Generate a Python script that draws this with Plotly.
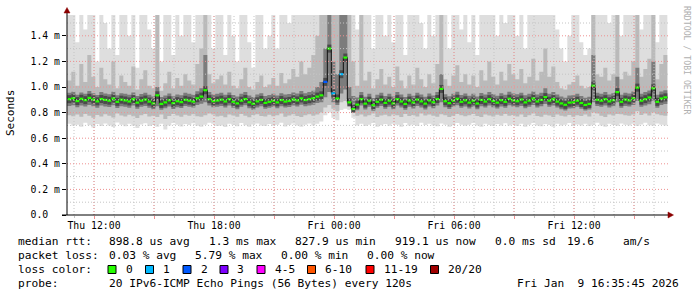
import plotly.graph_objects as go
import pandas as pd

# ---------------- data (round-trip times in microseconds) ----------------
start_time = "2026-01-08 10:40"
step_minutes = 12

median_us = [
    905, 912, 890, 908, 897, 915, 902, 888, 906, 899,
    893, 910, 884, 901, 895, 887, 905, 878, 893, 902,
    886, 872, 935, 868, 880, 896, 874, 889, 882, 900,
    893, 886, 912, 925, 975, 905, 889, 894, 901, 887,
    905, 885, 872, 893, 906, 881, 869, 888, 899, 876,
    884, 893, 880, 898, 886, 891, 903, 895, 911, 898,
    905, 912, 925, 935, 1040, 1300, 950, 910, 1100, 1230,
    880, 828, 862, 905, 870, 893, 858, 884, 901, 876,
    893, 872, 905, 887, 868, 894, 879, 902, 888, 870,
    895, 881, 906, 985, 889, 874, 893, 908, 884, 896,
    878, 893, 871, 899, 886, 905, 890, 878, 897, 884,
    908, 895, 889, 902, 880, 893, 910, 887, 899, 921,
    893, 905, 886, 872, 861, 878, 880, 893, 875, 860,
    868, 1010, 900, 893, 905, 888, 897, 960, 884, 902,
    895, 912, 995, 893, 905, 918, 990, 884, 910, 919,
]
loss_count = [
    0, 0, 0, 0, 0, 0, 0, 0, 0, 0, 0, 0, 0, 0, 0, 0, 0, 0, 0, 0, 0, 0, 0, 0, 0, 0, 0, 0, 0, 0,
    0, 0, 0, 0, 0, 0, 0, 0, 0, 0, 0, 0, 0, 0, 0, 0, 0, 0, 0, 0, 0, 0, 0, 0, 0, 0, 0, 0, 0, 0,
    0, 0, 0, 0, 2, 0, 1, 0, 1, 0, 0, 0, 0, 0, 0, 0, 0, 0, 0, 0, 0, 0, 0, 0, 0, 0, 0, 0, 0, 0,
    0, 0, 0, 0, 0, 0, 0, 0, 0, 0, 0, 0, 0, 0, 0, 0, 0, 0, 0, 0, 0, 0, 0, 0, 0, 0, 0, 0, 0, 0,
    0, 0, 0, 0, 0, 0, 0, 0, 0, 0, 0, 0, 0, 0, 0, 0, 0, 0, 0, 0, 0, 0, 0, 0, 0, 0, 0, 0, 0, 0,
]
ping_min_us = [
    712, 698, 705, 690, 720, 702, 684, 710, 695, 715,
    700, 688, 722, 705, 693, 712, 698, 680, 707, 716,
    695, 703, 690, 712, 668, 700, 718, 705, 692, 710,
    703, 716, 698, 690, 705, 720, 712, 695, 700, 688,
    712, 705, 694, 718, 702, 690, 708, 715, 700, 696,
    710, 698, 705, 720, 692, 703, 714, 700, 690, 706,
    715, 700, 712, 730, 780, 800, 760, 740, 820, 830,
    820, 760, 700, 712, 695, 705, 718, 690, 702, 710,
    698, 712, 705, 690, 718, 700, 708, 695, 720, 703,
    712, 700, 693, 715, 705, 690, 702, 718, 706, 697,
    705, 718, 700, 690, 712, 703, 695, 710, 700, 716,
    700, 708, 695, 712, 690, 705, 718, 700, 693, 710,
    703, 690, 712, 700, 705, 718, 695, 708, 700, 712,
    695, 705, 720, 700, 690, 712, 703, 698, 715, 705,
    700, 712, 695, 708, 720, 702, 698, 715, 705, 700,
]
ping_p10_us = [
    780, 772, 785, 768, 790, 776, 760, 782, 770, 788,
    775, 762, 792, 778, 770, 784, 772, 758, 780, 790,
    770, 776, 765, 786, 750, 774, 790, 778, 768, 784,
    776, 788, 772, 768, 780, 792, 786, 770, 776, 764,
    786, 778, 768, 790, 776, 764, 782, 788, 774, 770,
    784, 772, 780, 792, 768, 778, 788, 774, 766, 780,
    788, 776, 786, 800, 840, 860, 830, 810, 880, 890,
    860, 800, 775, 786, 770, 780, 792, 765, 778, 784,
    772, 786, 780, 766, 790, 774, 782, 770, 792, 778,
    786, 775, 768, 788, 780, 765, 776, 790, 780, 772,
    780, 790, 774, 766, 786, 778, 770, 784, 775, 790,
    775, 782, 770, 786, 766, 780, 792, 774, 768, 784,
    778, 765, 786, 775, 770, 782, 768, 780, 774, 786,
    770, 800, 792, 775, 766, 786, 778, 790, 788, 780,
    776, 786, 810, 782, 792, 778, 800, 788, 780, 776,
]
ping_q1_us = [
    852, 858, 842, 856, 848, 860, 850, 838, 855, 847,
    844, 858, 836, 850, 846, 838, 855, 830, 845, 852,
    838, 826, 850, 822, 834, 848, 828, 842, 836, 852,
    846, 840, 860, 870, 880, 856, 842, 846, 852, 840,
    856, 838, 826, 846, 858, 834, 822, 840, 850, 830,
    838, 846, 834, 850, 840, 844, 855, 848, 862, 850,
    856, 862, 875, 880, 920, 960, 880, 860, 950, 980,
    870, 820, 818, 856, 824, 846, 814, 838, 852, 830,
    846, 826, 856, 840, 822, 846, 832, 852, 840, 824,
    848, 834, 856, 880, 842, 828, 846, 858, 838, 848,
    832, 846, 826, 850, 840, 856, 842, 832, 848, 838,
    858, 848, 842, 852, 834, 846, 860, 840, 850, 868,
    846, 856, 840, 826, 816, 832, 834, 846, 830, 816,
    824, 880, 852, 846, 856, 840, 850, 880, 838, 852,
    848, 860, 890, 846, 856, 866, 890, 838, 860, 868,
]
ping_q3_us = [
    955, 962, 940, 958, 948, 968, 952, 938, 960, 950,
    944, 962, 936, 952, 948, 940, 958, 930, 946, 955,
    940, 926, 1000, 922, 934, 950, 928, 942, 936, 955,
    948, 940, 966, 990, 1250, 960, 942, 948, 955, 940,
    958, 938, 926, 948, 960, 934, 922, 942, 952, 930,
    938, 948, 934, 952, 942, 946, 958, 950, 968, 952,
    960, 970, 1000, 1040, 1300, 1600, 1200, 1100, 1600, 1600,
    1000, 930, 918, 960, 924, 948, 914, 940, 955, 930,
    948, 926, 960, 942, 922, 948, 932, 956, 942, 924,
    950, 934, 960, 1100, 944, 928, 948, 962, 938, 950,
    932, 948, 926, 954, 942, 960, 945, 932, 952, 940,
    962, 950, 944, 956, 936, 948, 965, 942, 955, 990,
    948, 960, 942, 926, 916, 934, 936, 948, 930, 916,
    924, 1250, 955, 948, 960, 942, 952, 1080, 940, 956,
    950, 965, 1150, 948, 960, 972, 1200, 940, 965, 975,
]
ping_p90_us = [
    1050, 1120, 1010, 1180, 1040, 1250, 1080, 1000, 1150, 1060,
    1020, 1200, 990, 1090, 1040, 1010, 1160, 980, 1060, 1130,
    1010, 990, 1600, 970, 1030, 1120, 990, 1070, 1010, 1100,
    1050, 1020, 1180, 1300, 1600, 1100, 1030, 1060, 1090, 1020,
    1120, 1010, 990, 1060, 1150, 1000, 980, 1040, 1090, 1000,
    1020, 1070, 1010, 1110, 1030, 1060, 1140, 1080, 1200, 1100,
    1150, 1250, 1400, 1600, 1600, 1600, 1600, 1600, 1600, 1600,
    1600, 1200, 1010, 1600, 1050, 1120, 990, 1060, 1140, 1020,
    1080, 1000, 1160, 1050, 990, 1090, 1020, 1150, 1060, 1000,
    1100, 1030, 1180, 1600, 1060, 1010, 1090, 1170, 1040, 1100,
    1020, 1090, 1000, 1130, 1050, 1200, 1080, 1020, 1120, 1050,
    1180, 1100, 1060, 1140, 1030, 1080, 1220, 1050, 1120, 1300,
    1080, 1160, 1040, 990, 980, 1020, 1040, 1090, 1010, 990,
    1000, 1600, 1100, 1080, 1150, 1050, 1100, 1600, 1060, 1120,
    1090, 1200, 1600, 1080, 1140, 1220, 1600, 1060, 1180, 1250,
]
ping_max_us = [
    1600, 1600, 1350, 1600, 1450, 1600, 1600, 1200, 1600, 1500,
    1300, 1600, 1250, 1600, 1600, 1400, 1600, 1150, 1600, 1600,
    1450, 1300, 1600, 1200, 1600, 1600, 1250, 1600, 1400, 1600,
    1600, 1350, 1600, 1600, 1600, 1600, 1300, 1600, 1600, 1250,
    1600, 1400, 1200, 1600, 1600, 1350, 1150, 1600, 1600, 1300,
    1400, 1600, 1300, 1600, 1600, 1500, 1600, 1600, 1600, 1600,
    1600, 1600, 1600, 1600, 1600, 1600, 1600, 1600, 1600, 1600,
    1600, 1600, 1450, 1600, 1600, 1600, 1300, 1600, 1600, 1400,
    1600, 1350, 1600, 1600, 1250, 1600, 1600, 1600, 1500, 1300,
    1600, 1400, 1600, 1600, 1600, 1300, 1600, 1600, 1450, 1600,
    1350, 1600, 1250, 1600, 1600, 1600, 1600, 1400, 1600, 1500,
    1600, 1600, 1400, 1600, 1300, 1600, 1600, 1600, 1600, 1600,
    1600, 1600, 1450, 1300, 1200, 1400, 1600, 1600, 1350, 1250,
    1300, 1600, 1600, 1600, 1600, 1500, 1600, 1600, 1400, 1600,
    1600, 1600, 1600, 1450, 1600, 1600, 1600, 1350, 1600, 1600,
]

x_range = ["2026-01-08 10:39", "2026-01-09 16:42"]
y_range = [0, 1.5625]
x_tick_vals = ["2026-01-08 12:00", "2026-01-08 15:00", "2026-01-08 18:00", "2026-01-08 21:00",
               "2026-01-09 00:00", "2026-01-09 03:00", "2026-01-09 06:00", "2026-01-09 09:00",
               "2026-01-09 12:00", "2026-01-09 15:00"]
x_tick_text = ["Thu 12:00", "", "Thu 18:00", "", "Fri 00:00", "", "Fri 06:00", "", "Fri 12:00", ""]
x_minor_vals = pd.date_range("2026-01-08 11:00", "2026-01-09 16:00", freq="1h")
y_tick_vals = [0.0, 0.2, 0.4, 0.6, 0.8, 1.0, 1.2, 1.4]
y_tick_text = ["0.0\u00a0\u00a0", "0.2 m", "0.4 m", "0.6 m", "0.8 m", "1.0 m", "1.2 m", "1.4 m"]
y_minor_vals = [0.1, 0.3, 0.5, 0.7, 0.9, 1.1, 1.3, 1.5]

loss_color_map = {0: "#26ff00", 1: "#00b8ff", 2: "#0059ff", 3: "#7e00ff"}
legend_labels = ["0", "1", "2", "3", "4-5", "6-10", "11-19", "20/20"]
legend_colors = ["#26ff00", "#00b8ff", "#0059ff", "#7e00ff", "#ff00ff", "#ff5500", "#ff0000", "#a00000"]

stat_rtt = [("median rtt:", 16), ("898.8 us avg", 107), ("1.3 ms max", 207), ("827.9 us min", 293),
            ("919.1 us now", 393), ("0.0 ms sd", 493), ("19.6", 565), ("am/s", 621)]
stat_loss = [("packet loss:", 16), ("0.03 % avg", 107), ("5.79 % max", 193), ("0.00 % min", 279),
             ("0.00 % now", 365)]
probe_text = [("probe:", 16), ("20 IPv6-ICMP Echo Pings (56 Bytes) every 120s", 107)]
date_text = "Fri Jan  9 16:35:45 2026"

# ---------------- geometry helpers ----------------
W, H = 697, 297
ML, MR, MT, MB = 67, 29, 15, 82
PW, PH = W - ML - MR, H - MT - MB
FONT = "DejaVu Sans Mono"


def px(x):
    return (x - ML) / PW


def py(y):
    return (MT + PH - y) / PH


N = len(median_us)
times = pd.date_range(start_time, periods=N + 1, freq=f"{step_minutes}min")


def ms(arr):
    v = [a / 1000.0 for a in arr]
    return v + [v[-1]]


fig = go.Figure()

layers = [
    (ping_min_us, ping_max_us, "#dedede"),
    (ping_p10_us, ping_p90_us, "#bababa"),
    (ping_q1_us, ping_q3_us, "#7c7c7c"),
]
for lo, hi, col in layers:
    fig.add_trace(go.Scatter(x=times, y=ms(lo), mode="lines", line=dict(width=0, shape="hv"),
                             hoverinfo="skip", showlegend=False))
    fig.add_trace(go.Scatter(x=times, y=ms(hi), mode="lines", line=dict(width=0, shape="hv"),
                             fill="tonexty", fillcolor=col, hoverinfo="skip", showlegend=False))

med = ms(median_us)
# dark core of the smoke around the median
cx, cy = [], []
for i in range(N):
    cx += [times[i], times[i + 1], None]
    cy += [med[i], med[i], None]
fig.add_trace(go.Scatter(x=cx, y=cy, mode="lines", line=dict(width=8, color="#4a4a4a"),
                         hoverinfo="skip", showlegend=False))
fig.add_trace(go.Scatter(x=times, y=med, mode="lines", line=dict(width=1, color="#111111", shape="hv"),
                         hoverinfo="skip", showlegend=False))
for lvl, col in loss_color_map.items():
    xs, ys = [], []
    for i in range(N):
        if loss_count[i] == lvl:
            xs += [times[i], times[i + 1], None]
            ys += [med[i], med[i], None]
    if xs:
        fig.add_trace(go.Scatter(x=xs, y=ys, mode="lines", line=dict(width=2.2, color=col),
                                 hoverinfo="skip", showlegend=False))

shapes = []
MINOR = "#c4c4c4"
MAJOR = "#ee9090"
for t in x_minor_vals:
    shapes.append(dict(type="line", xref="x", yref="paper", x0=t, x1=t, y0=0, y1=1, layer="above",
                       line=dict(color=MINOR, width=1, dash="1px,2px")))
for t in x_tick_vals:
    shapes.append(dict(type="line", xref="x", yref="paper", x0=t, x1=t, y0=0, y1=1, layer="above",
                       line=dict(color=MAJOR, width=1, dash="1px,2px")))
for v in y_minor_vals:
    shapes.append(dict(type="line", xref="paper", yref="y", x0=0, x1=1, y0=v, y1=v, layer="above",
                       line=dict(color=MINOR, width=1, dash="1px,2px")))
for v in y_tick_vals[1:]:
    shapes.append(dict(type="line", xref="paper", yref="y", x0=0, x1=1, y0=v, y1=v, layer="above",
                       line=dict(color=MAJOR, width=1, dash="1px,2px")))

# axes with arrows
shapes.append(dict(type="line", xref="paper", yref="paper", x0=px(67), x1=px(67), y0=py(215), y1=py(12),
                   layer="above", line=dict(color="black", width=1)))
shapes.append(dict(type="line", xref="paper", yref="paper", x0=px(62), x1=px(669), y0=py(215), y1=py(215),
                   layer="above", line=dict(color="black", width=1)))
shapes.append(dict(type="path", xref="paper", yref="paper", layer="above",
                   path=f"M {px(64)} {py(13)} L {px(70)} {py(13)} L {px(67)} {py(7.5)} Z",
                   fillcolor="#8b0000", line=dict(color="#8b0000", width=0.5)))
shapes.append(dict(type="path", xref="paper", yref="paper", layer="above",
                   path=f"M {px(668)} {py(212)} L {px(668)} {py(218)} L {px(673.5)} {py(215)} Z",
                   fillcolor="#8b0000", line=dict(color="#8b0000", width=0.5)))

annotations = []


def txt(s, x, y, anchor="left", size=11.2, color="black", angle=0):
    annotations.append(dict(text=s.replace(" ", "\u00a0"), x=px(x), y=py(y), xref="paper", yref="paper",
                            xanchor=anchor, yanchor="middle", showarrow=False, textangle=angle,
                            font=dict(family=FONT, size=size, color=color)))


for s, x in stat_rtt:
    txt(s, x, 241.5)
for s, x in stat_loss:
    txt(s, x, 255.5)
txt("loss color:", 16, 269.5)
box_x = [108, 145.5, 183, 220, 257, 307.5, 366, 430.5]
for lab, col, bx in zip(legend_labels, legend_colors, box_x):
    shapes.append(dict(type="rect", xref="paper", yref="paper", x0=px(bx), x1=px(bx + 8),
                       y0=py(273.5), y1=py(265.5), fillcolor=col, line=dict(color="black", width=1)))
    txt(lab, bx + 15.5, 269.5)
for s, x in probe_text:
    txt(s, x, 283.5)
txt(date_text, 681, 283.5, anchor="right")

txt("Seconds", 10, 113, anchor="center", size=11, angle=-90)
txt("RRDTOOL / TOBI OETIKER", 687, 60, anchor="center", size=8.2, color="#b0b0b0", angle=90)

fig.update_layout(
    width=W, height=H, margin=dict(l=ML, r=MR, t=MT, b=MB),
    paper_bgcolor="white", plot_bgcolor="white", showlegend=False,
    shapes=shapes, annotations=annotations,
    xaxis=dict(range=x_range, showgrid=False, zeroline=False, showline=False,
               tickmode="array", tickvals=x_tick_vals, ticktext=x_tick_text,
               ticks="outside", ticklen=3, tickcolor="#ee9090", ticklabelstandoff=-2,
               tickfont=dict(family=FONT, size=9.8, color="black"),
               minor=dict(ticks="outside", ticklen=2, tickcolor="#c4c4c4", dtick=3600000,
                          tick0="2026-01-08 11:00", showgrid=False)),
    yaxis=dict(range=y_range, showgrid=False, zeroline=False, showline=False,
               tickmode="array", tickvals=y_tick_vals, ticktext=y_tick_text,
               ticks="outside", ticklen=4, tickcolor="black",
               tickfont=dict(family=FONT, size=9.8, color="black")),
)

fig.write_html("out.html")
